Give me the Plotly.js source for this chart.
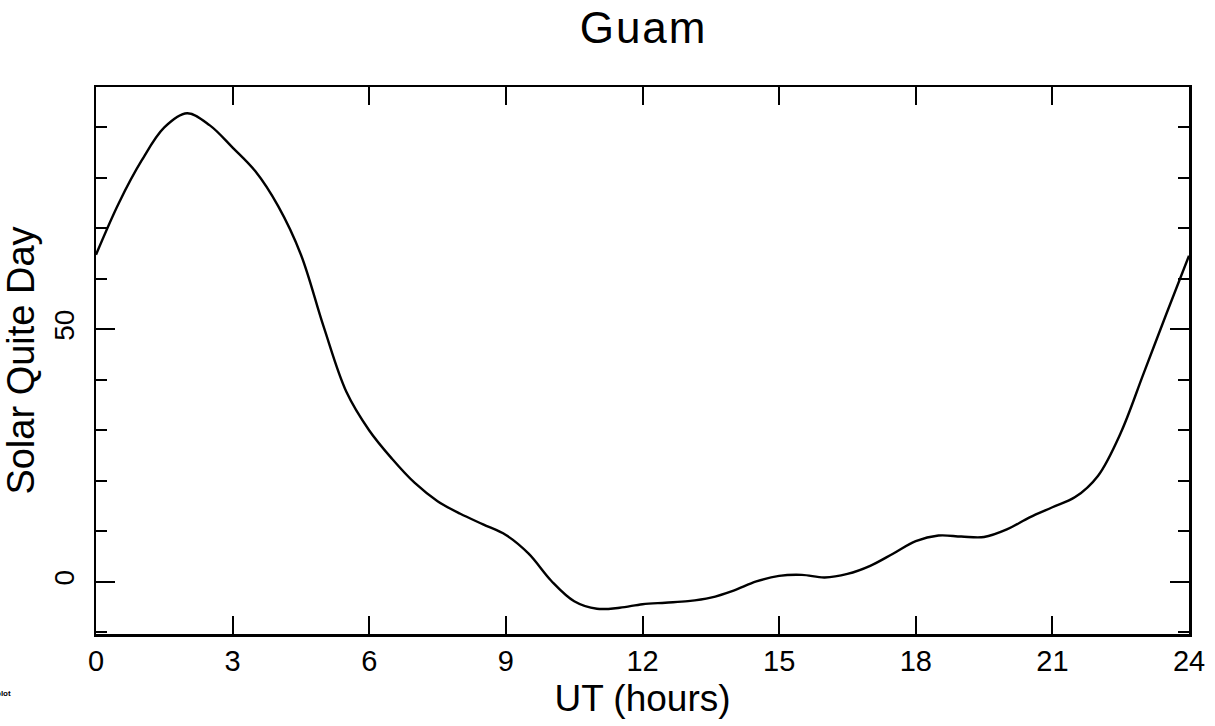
<!DOCTYPE html>
<html>
<head>
<meta charset="utf-8">
<script src="https://cdn.plot.ly/plotly-3.0.1.min.js"></script>
<style>
html, body { margin: 0; padding: 0; background: #fff; }
#chart { width: 1215px; height: 726px; }
#chart .gtitle { letter-spacing: 2px; }
</style>
</head>
<body>
<div id="chart"></div>
<script>
// Data
const hours = [0, 0.5, 1, 1.5, 2, 2.5, 3, 3.5, 4, 4.5, 5, 5.5, 6, 6.5, 7, 7.5, 8, 8.5, 9, 9.5,
               10, 10.5, 11, 11.5, 12, 12.5, 13, 13.5, 14, 14.5, 15, 15.5, 16, 16.5, 17, 17.5,
               18, 18.5, 19, 19.5, 20, 20.5, 21, 21.5, 22, 22.5, 23, 23.5, 24];
const solarQuietDay = [64.8, 75.0, 83.4, 90.0, 92.8, 90.4, 86.0, 81.3, 74.4, 64.8, 50.5, 37.6, 30.0, 24.4, 19.6, 16.0, 13.5, 11.4, 9.3, 5.6,
                       0.2, -3.8, -5.3, -5.1, -4.4, -4.1, -3.8, -3.1, -1.7, 0.1, 1.2, 1.4, 0.9, 1.6, 3.2, 5.6,
                       8.1, 9.2, 9.0, 8.9, 10.4, 12.8, 14.8, 16.8, 21.0, 29.5, 41.2, 53.0, 64.6];
const xTickVals = [0, 3, 6, 9, 12, 15, 18, 21, 24];
const xTickText = ['0', '3', '6', '9', '12', '15', '18', '21', '24'];
const yTickVals = [0, 50];
const yTickText = ['0', '50'];

const FONT = 'Liberation Sans, Arial, Helvetica, sans-serif';

const traces = [{
  x: hours,
  y: solarQuietDay,
  type: 'scatter',
  mode: 'lines',
  line: { color: '#000', width: 2.4, shape: 'spline', smoothing: 1 },
  hoverinfo: 'skip',
  showlegend: false
}];

const layout = {
  width: 1215,
  height: 726,
  margin: { l: 96, r: 26, t: 87, b: 92, pad: 0 },
  paper_bgcolor: '#fff',
  plot_bgcolor: '#fff',
  font: { family: FONT, color: '#000' },
  showlegend: false,
  title: {
    text: 'Guam',
    font: { family: FONT, size: 44, color: '#000' },
    x: 0.501, xref: 'paper', xanchor: 'center',
    y: 0.962, yref: 'container', yanchor: 'middle'
  },
  xaxis: {
    range: [0, 24],
    tickmode: 'array', tickvals: xTickVals, ticktext: xTickText,
    ticks: 'inside', ticklen: 18, tickwidth: 2, tickcolor: '#000',
    showline: true, linewidth: 2.5, linecolor: '#000', mirror: 'ticks',
    showgrid: false, zeroline: false,
    tickfont: { family: FONT, size: 29, color: '#000' },
    ticklabelstandoff: 0,
    title: { text: 'UT (hours)', font: { family: FONT, size: 37, color: '#000' }, standoff: 9 },
    fixedrange: true
  },
  xaxis2: {
    overlaying: 'x', matches: 'x', anchor: 'y', side: 'bottom',
    range: [0, 24],
    tickmode: 'array', tickvals: xTickVals,
    ticks: 'outside', ticklen: 13, tickwidth: 2, tickcolor: '#000',
    showticklabels: false, showline: false, showgrid: false, zeroline: false
  },
  yaxis: {
    range: [-10.3, 98],
    tickmode: 'array', tickvals: yTickVals, ticktext: yTickText,
    ticks: 'inside', ticklen: 19, tickwidth: 2, tickcolor: '#000',
    minor: { tickmode: 'linear', tick0: 0, dtick: 10, ticks: 'inside', ticklen: 11, tickwidth: 2, tickcolor: '#000', showgrid: false },
    showline: true, linewidth: 2.5, linecolor: '#000', mirror: 'ticks',
    showgrid: false, zeroline: false,
    tickangle: -90,
    tickfont: { family: FONT, size: 28, color: '#000' },
    ticklabelstandoff: 8,
    title: { text: 'Solar Quite Day', font: { family: FONT, size: 38, color: '#000' }, standoff: 14 },
    fixedrange: true
  },
  yaxis2: {
    overlaying: 'y', matches: 'y', anchor: 'x', side: 'left',
    range: [-10.3, 98],
    tickmode: 'array', tickvals: yTickVals,
    ticks: 'outside', ticklen: 13, tickwidth: 2, tickcolor: '#000',
    showticklabels: false, showline: false, showgrid: false, zeroline: false
  },
  annotations: [{
    text: '<b>plot</b>',
    xref: 'paper', yref: 'paper',
    x: -0.076, y: -0.109, xanchor: 'right', yanchor: 'middle',
    showarrow: false,
    font: { family: FONT, size: 8, color: '#000' }
  }]
};

Plotly.newPlot('chart', traces, layout, { staticPlot: true, displayModeBar: false });
</script>
</body>
</html>
